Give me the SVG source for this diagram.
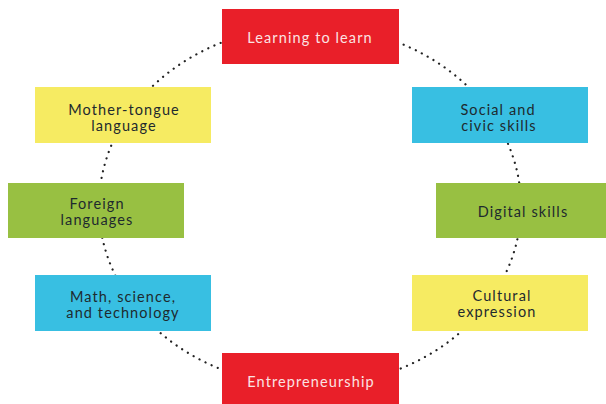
<svg xmlns="http://www.w3.org/2000/svg" width="606" height="404" viewBox="0 0 606 404">
<style>
.red{fill:#E91F29}
.yel{fill:#F6EB62}
.blu{fill:#38BFE2}
.grn{fill:#98C042}
text{font-family:Lato,"Liberation Sans",sans-serif;font-size:14.5px;letter-spacing:1.1px;text-anchor:middle}
.lt{fill:#FBE3E3}
.dk{fill:#1E2A2E}
.ring{fill:none;stroke:#222;stroke-width:2.2;stroke-dasharray:0.1 6.6;stroke-linecap:round}
</style>
<rect width="606" height="404" fill="#fff"/>
<g id="connectors">
<ellipse class="ring" cx="310" cy="206" rx="211" ry="180"/>
</g>
<g id="learning">
<rect class="red" x="222" y="9" width="177" height="55"/>
<text class="lt" x="310" y="43">Learning to learn</text>
</g>
<g id="mother">
<rect class="yel" x="35" y="87" width="176" height="56"/>
<text class="dk" x="124" y="114.5">Mother-tongue</text>
<text class="dk" x="124" y="131">language</text>
</g>
<g id="foreign">
<rect class="grn" x="8" y="183" width="176" height="55"/>
<text class="dk" x="97" y="208.5">Foreign</text>
<text class="dk" x="97" y="225">languages</text>
</g>
<g id="math">
<rect class="blu" x="35" y="275" width="176" height="56"/>
<text class="dk" x="123" y="301.5">Math, science,</text>
<text class="dk" x="123" y="318">and technology</text>
</g>
<g id="social">
<rect class="blu" x="412" y="87" width="176" height="56"/>
<text class="dk" x="498" y="114.5">Social and</text>
<text class="dk" x="499" y="131">civic skills</text>
</g>
<g id="digital">
<rect class="grn" x="436" y="183" width="170" height="55"/>
<text class="dk" x="523" y="217">Digital skills</text>
</g>
<g id="cultural">
<rect class="yel" x="412" y="275" width="176" height="56"/>
<text class="dk" x="502" y="300.5">Cultural</text>
<text class="dk" x="497" y="317">expression</text>
</g>
<g id="entrepreneurship">
<rect class="red" x="222" y="353" width="177" height="51"/>
<text class="lt" x="311" y="387">Entrepreneurship</text>
</g>
</svg>
